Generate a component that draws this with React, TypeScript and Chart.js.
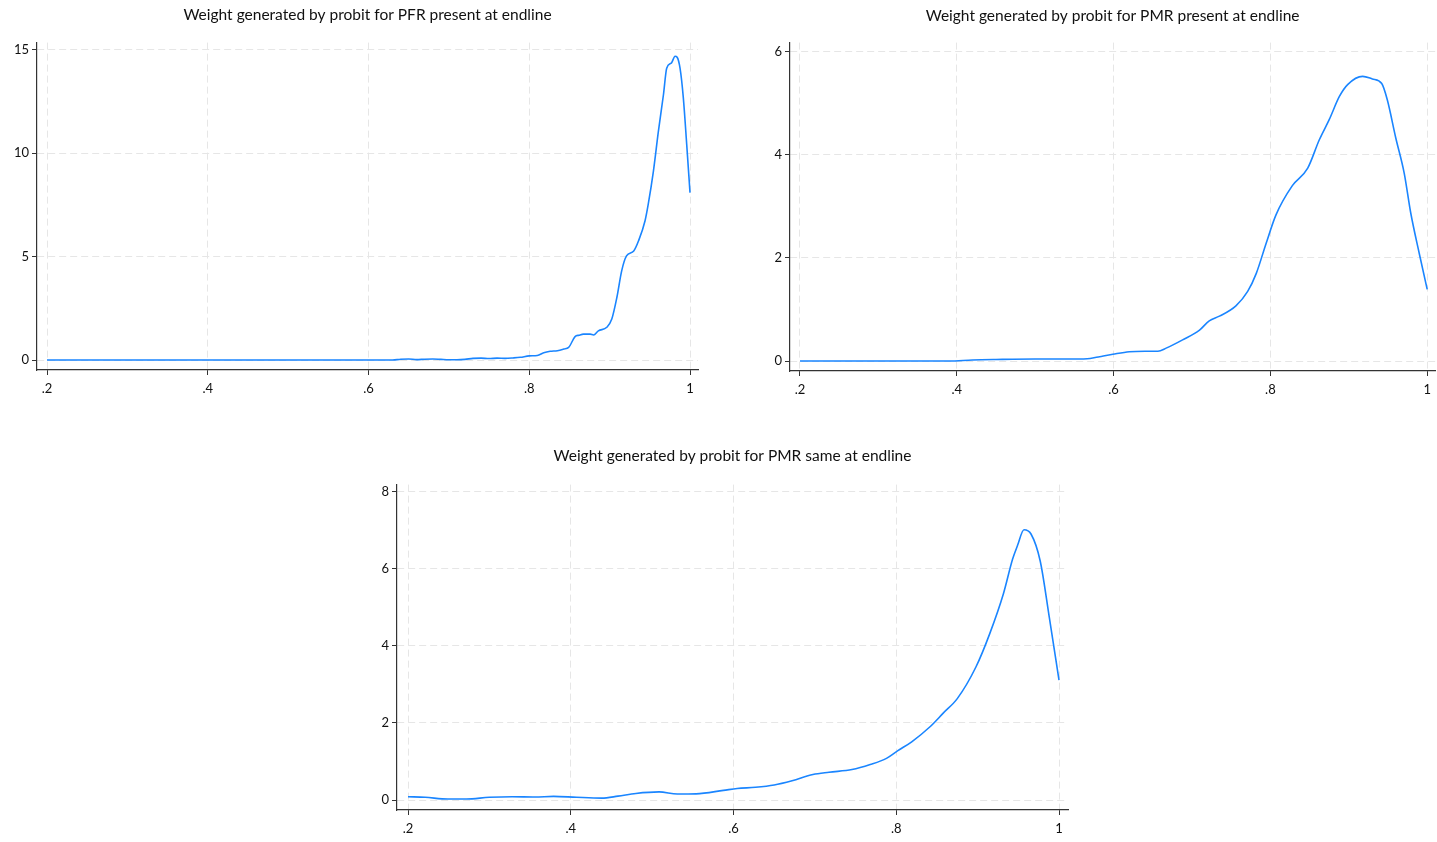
import { useEffect, useRef } from "react";
import { Chart, registerables } from "chart.js";
Chart.register(...registerables);

// ---- data ----
const xTicks = [0.2, 0.4, 0.6, 0.8, 1];

const pfrTitle = "Weight generated by probit for PFR present at endline";
const pfrYTicks = [0, 5, 10, 15];
const pfrX = [0.2, 0.3, 0.4, 0.5, 0.6, 0.63, 0.64, 0.65, 0.66, 0.67, 0.68, 0.69, 0.7, 0.71, 0.72, 0.73, 0.74, 0.75, 0.76, 0.77, 0.78, 0.789, 0.8, 0.81, 0.818, 0.826, 0.835, 0.843, 0.849, 0.857, 0.862, 0.8675, 0.8758, 0.88, 0.886, 0.8965, 0.9027, 0.909, 0.915, 0.921, 0.93, 0.936, 0.944, 0.948, 0.9545, 0.9607, 0.967, 0.971, 0.977, 0.9814, 0.984, 0.9876, 0.9917, 0.9959, 1.0];
const pfrY = [0, 0, 0, 0, 0, 0, 0.04, 0.05, 0.02, 0.04, 0.05, 0.03, 0.01, 0.01, 0.03, 0.08, 0.09, 0.07, 0.09, 0.08, 0.1, 0.13, 0.2, 0.22, 0.35, 0.42, 0.45, 0.53, 0.61, 1.13, 1.2, 1.25, 1.25, 1.21, 1.41, 1.58, 1.98, 3.02, 4.31, 5.03, 5.27, 5.76, 6.72, 7.52, 9.13, 11.06, 12.83, 14.1, 14.36, 14.68, 14.63, 14.1, 12.67, 10.42, 8.09];

const pmrPresentTitle = "Weight generated by probit for PMR present at endline";
const pmrPresentYTicks = [0, 2, 4, 6];
const pmrPresentX = [0.2, 0.3, 0.39, 0.42, 0.45, 0.5, 0.55, 0.57, 0.5822, 0.599, 0.62, 0.64, 0.6565, 0.667, 0.688, 0.7096, 0.722, 0.735, 0.756, 0.771, 0.782, 0.7945, 0.807, 0.828, 0.8476, 0.8624, 0.875, 0.888, 0.8985, 0.9176, 0.93, 0.942, 0.949, 0.96, 0.9707, 0.979, 0.9898, 1.0];
const pmrPresentY = [0, 0, 0, 0.02, 0.03, 0.04, 0.04, 0.05, 0.084, 0.13, 0.18, 0.19, 0.19, 0.25, 0.41, 0.6, 0.78, 0.87, 1.07, 1.35, 1.7, 2.28, 2.83, 3.4, 3.74, 4.29, 4.68, 5.13, 5.36, 5.52, 5.47, 5.38, 5.07, 4.32, 3.64, 2.87, 2.09, 1.39];

const pmrSameTitle = "Weight generated by probit for PMR same at endline";
const pmrSameYTicks = [0, 2, 4, 6, 8];
const pmrSameX = [0.2, 0.221, 0.249, 0.2717, 0.3, 0.328, 0.356, 0.379, 0.407, 0.438, 0.458, 0.48, 0.5086, 0.531, 0.554, 0.5876, 0.6045, 0.627, 0.65, 0.672, 0.6976, 0.7174, 0.7456, 0.768, 0.788, 0.802, 0.819, 0.8415, 0.858, 0.875, 0.8979, 0.9148, 0.9317, 0.943, 0.949, 0.957, 0.9656, 0.9769, 0.988, 1.0];
const pmrSameY = [0.086, 0.07, 0.026, 0.026, 0.07, 0.086, 0.078, 0.095, 0.07, 0.05, 0.1, 0.17, 0.21, 0.155, 0.16, 0.25, 0.3, 0.33, 0.39, 0.5, 0.66, 0.72, 0.79, 0.92, 1.08, 1.28, 1.51, 1.9, 2.26, 2.63, 3.45, 4.31, 5.35, 6.25, 6.6, 7.01, 6.9, 6.2, 4.75, 3.11];

// ---- styling ----
const W = 1437;
const H = 842;
const FONT = "Lato, 'Open Sans', sans-serif";
const LINE = "rgb(26,133,255)";
const GRID = "#e6e6e6";
const AXIS = "#333333";

function fmtX(v: number): string {
  if (v === 1) return "1";
  return String(Number(v.toFixed(2))).replace(/^0/, "");
}

type Panel = {
  title: string;
  xs: number[];
  ys: number[];
  yTicks: number[];
  xMin: number;
  xMax: number;
  yMin: number;
  yMax: number;
  pad: { left: number; right: number; top: number; bottom: number };
  titlePad: { top: number; bottom: number };
};

function buildConfig(p: Panel): any {
  const data = p.xs.map((x, i) => ({ x, y: p.ys[i] }));
  const gridOpts = {
    color: GRID,
    lineWidth: 1,
    drawTicks: true,
    tickLength: 5,
    tickColor: AXIS,
    tickWidth: 1,
    tickBorderDash: [],
  };
  const borderOpts = { display: true, color: AXIS, width: 1.2, dash: [7, 4] };
  return {
    type: "line",
    data: {
      datasets: [
        {
          data,
          borderColor: LINE,
          borderWidth: 1.6,
          pointRadius: 0,
          fill: false,
          cubicInterpolationMode: "monotone",
        },
      ],
    },
    options: {
      responsive: false,
      animation: false,
      devicePixelRatio: 1,
      events: [],
      layout: { padding: p.pad },
      plugins: {
        legend: { display: false },
        tooltip: { enabled: false },
        title: {
          display: true,
          text: p.title,
          fullSize: false,
          color: "#111",
          font: { family: FONT, size: 15.5, weight: "normal" },
          padding: p.titlePad,
        },
      },
      scales: {
        x: {
          type: "linear",
          min: p.xMin,
          max: p.xMax,
          afterBuildTicks: (s: any) => {
            s.ticks = xTicks.map((v) => ({ value: v }));
          },
          afterFit: (s: any) => {
            s.height = 25;
          },
          ticks: {
            autoSkip: false,
            maxRotation: 0,
            padding: 6,
            color: "#111",
            font: { family: FONT, size: 13 },
            callback: (v: any) => fmtX(Number(v)),
          },
          grid: gridOpts,
          border: borderOpts,
        },
        y: {
          type: "linear",
          min: p.yMin,
          max: p.yMax,
          afterBuildTicks: (s: any) => {
            s.ticks = p.yTicks.map((v) => ({ value: v }));
          },
          afterFit: (s: any) => {
            s.width = 30;
          },
          ticks: {
            autoSkip: false,
            padding: 3,
            color: "#111",
            font: { family: FONT, size: 13 },
            callback: (v: any) => String(v),
          },
          grid: gridOpts,
          border: borderOpts,
        },
      },
    },
  };
}

const panels: Panel[] = [
  {
    title: pfrTitle,
    xs: pfrX,
    ys: pfrY,
    yTicks: pfrYTicks,
    xMin: 0.2 - 10 / 803.75,
    xMax: 1 + 8 / 803.75,
    yMin: -10 / 20.733,
    yMax: 15 + 7 / 20.733,
    pad: { left: 7, right: W - 698, top: 0, bottom: H - 370 - 25 },
    titlePad: { top: 6, bottom: 18 },
  },
  {
    title: pmrPresentTitle,
    xs: pmrPresentX,
    ys: pmrPresentY,
    yTicks: pmrPresentYTicks,
    xMin: 0.2 - 10 / 785,
    xMax: 1 + 8 / 785,
    yMin: -10 / 51.667,
    yMax: 6 + 9 / 51.667,
    pad: { left: 760, right: 1, top: 0, bottom: H - 371 - 25 },
    titlePad: { top: 7, bottom: 17 },
  },
  {
    title: pmrSameTitle,
    xs: pmrSameX,
    ys: pmrSameY,
    yTicks: pmrSameYTicks,
    xMin: 0.2 - 11 / 813.75,
    xMax: 1 + 9 / 813.75,
    yMin: -10 / 38.625,
    yMax: 8 + 7 / 38.625,
    pad: { left: 367, right: W - 1068, top: 442, bottom: H - 810 - 25 },
    titlePad: { top: 5, bottom: 19 },
  },
];

function PanelCanvas({ panel }: { panel: Panel }) {
  const ref = useRef<HTMLCanvasElement | null>(null);
  useEffect(() => {
    if (!ref.current) return;
    const chart = new Chart(ref.current, buildConfig(panel));
    return () => chart.destroy();
  }, [panel]);
  return (
    <canvas
      ref={ref}
      width={W}
      height={H}
      style={{ position: "absolute", left: 0, top: 0, width: W, height: H }}
    />
  );
}

export default function App() {
  return (
    <div
      style={{
        position: "absolute",
        left: 0,
        top: 0,
        width: W,
        height: H,
        overflow: "hidden",
        background: "#ffffff",
      }}
    >
      {panels.map((p, i) => (
        <PanelCanvas key={i} panel={p} />
      ))}
    </div>
  );
}
